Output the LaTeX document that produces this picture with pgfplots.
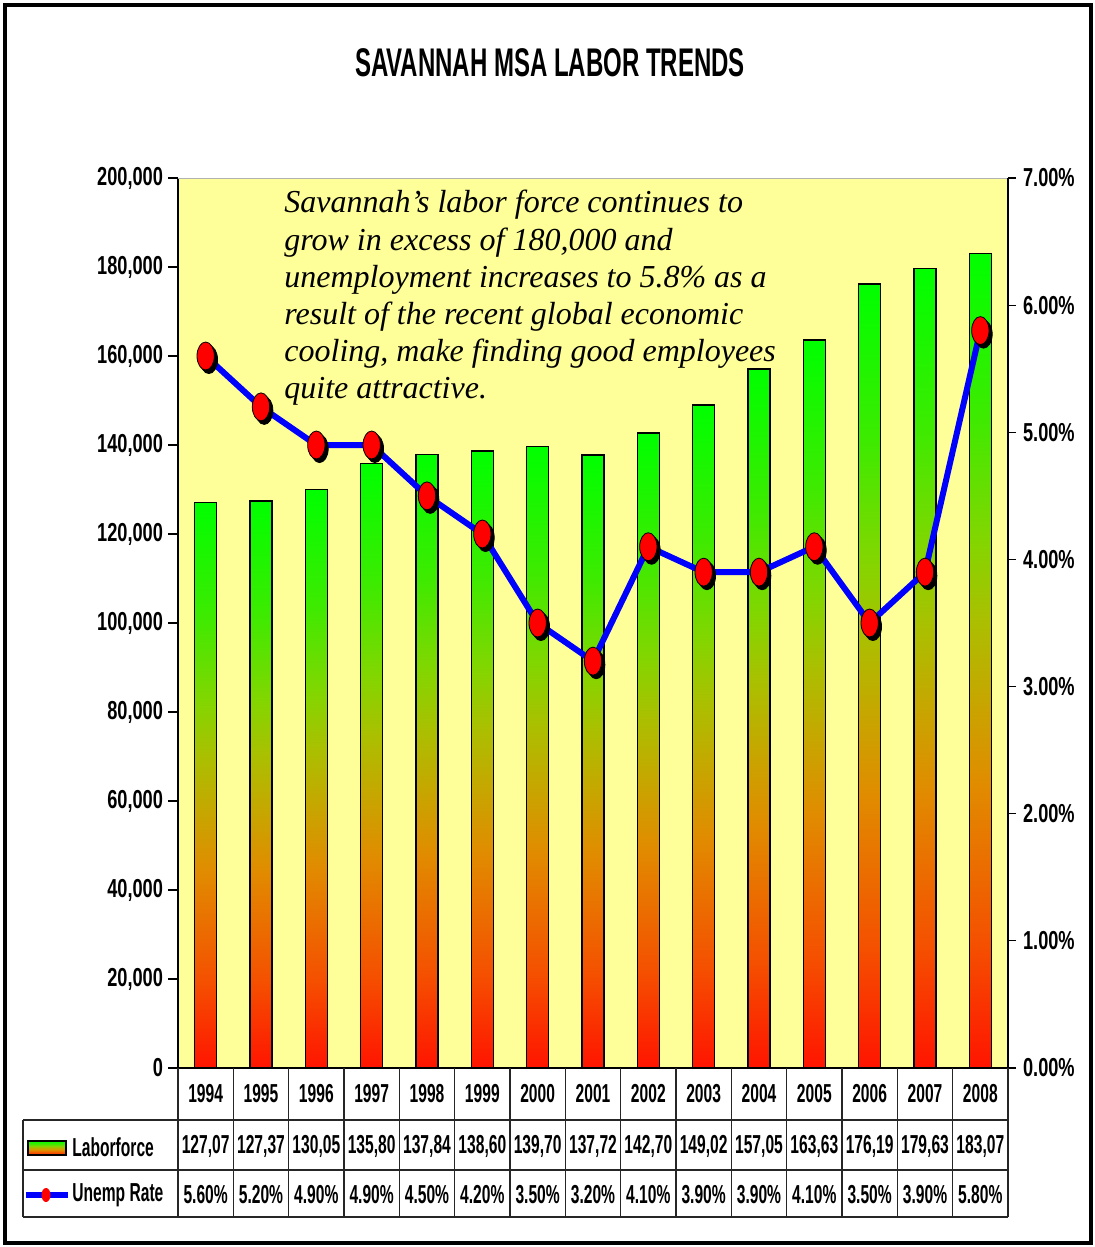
\documentclass[border=0pt]{standalone}
\usepackage{pgfplots}
\pgfplotsset{compat=1.18}
\usepackage{fontspec}
\setmainfont{Liberation Sans}
\newfontfamily\tickfont{Liberation Sans}[FakeStretch=0.70]
\newfontfamily\tabfont{Liberation Sans}[FakeStretch=0.60]
\newfontfamily\titlefont{Liberation Sans}[FakeStretch=0.60]
\newfontfamily\notefont{Liberation Serif}
\definecolor{bgy}{RGB}{255,255,153}
\definecolor{lblue}{RGB}{0,0,255}
\pgfdeclareverticalshading{barshade}{100bp}{rgb(0bp)=(1,0.08,0); rgb(25bp)=(1,0.08,0); rgb(32.5bp)=(0.96,0.31,0); rgb(37.5bp)=(0.92,0.43,0); rgb(42.5bp)=(0.88,0.55,0); rgb(47.5bp)=(0.78,0.65,0); rgb(52.5bp)=(0.67,0.75,0); rgb(57.5bp)=(0.51,0.84,0); rgb(65bp)=(0.24,0.92,0); rgb(75bp)=(0,1,0); rgb(100bp)=(0,1,0)}
\pgfplotsset{mybar/.style={ybar, bar width=11pt, bar shift=0pt, draw=black, line width=0.75pt, shading=barshade}}
\begin{document}
\begin{tikzpicture}
\begin{scope}[x=0.5pt,y=0.5pt]
\path (0,0) rectangle (1094,-1247);
\draw[line width=2pt] (5,-5) rectangle (1091,-1243);
\node[anchor=base, inner sep=0, font=\titlefont\bfseries\fontsize{20}{20}\selectfont] at (550,-76) {SAVANNAH MSA LABOR TRENDS};
\end{scope}
\begin{axis}[
  at={(89pt,-534pt)}, anchor=south west,
  scale only axis, width=415pt, height=445pt,
  xmin=-0.5, xmax=14.5, ymin=0, ymax=200000,
  axis background/.style={fill=bgy},
  axis x line*=bottom, axis y line*=left,
  axis line style={-, black, line width=0.6pt},
  xtick=\empty,
  ytick={0,20000,40000,60000,80000,100000,120000,140000,160000,180000,200000},
  yticklabels={0,{20,000},{40,000},{60,000},{80,000},{100,000},{120,000},{140,000},{160,000},{180,000},{200,000}},
  tick align=outside, major tick length=5pt,
  tick style={black, line width=0.6pt},
  scaled y ticks=false,
  yticklabel style={font=\tickfont\bfseries\fontsize{13}{13}\selectfont, xshift=1pt},
]
\addplot[mybar] coordinates {(0,127070)};
\addplot[mybar] coordinates {(1,127370)};
\addplot[mybar] coordinates {(2,130050)};
\addplot[mybar] coordinates {(3,135800)};
\addplot[mybar] coordinates {(4,137840)};
\addplot[mybar] coordinates {(5,138600)};
\addplot[mybar] coordinates {(6,139700)};
\addplot[mybar] coordinates {(7,137720)};
\addplot[mybar] coordinates {(8,142700)};
\addplot[mybar] coordinates {(9,149020)};
\addplot[mybar] coordinates {(10,157050)};
\addplot[mybar] coordinates {(11,163630)};
\addplot[mybar] coordinates {(12,176190)};
\addplot[mybar] coordinates {(13,179630)};
\addplot[mybar] coordinates {(14,183070)};
\draw[gray!60, line width=0.6pt] (rel axis cs:0,1) -- (rel axis cs:1,1);
\end{axis}
\begin{axis}[
  at={(89pt,-534pt)}, anchor=south west,
  scale only axis, width=415pt, height=445pt,
  xmin=-0.5, xmax=14.5, ymin=0, ymax=7,
  axis y line*=right, axis x line=none,
  axis line style={-, black, line width=0.6pt},
  xtick=\empty,
  ytick={0,1,2,3,4,5,6,7},
  yticklabels={0.00\%,1.00\%,2.00\%,3.00\%,4.00\%,5.00\%,6.00\%,7.00\%},
  tick align=outside, major tick length=4pt,
  tick style={black, line width=0.6pt},
  yticklabel style={font=\tickfont\bfseries\fontsize{13}{13}\selectfont},
  clip=false,
]
\addplot[lblue, line width=3pt, mark=none]
  coordinates {(0,5.6) (1,5.2) (2,4.9) (3,4.9) (4,4.5) (5,4.2) (6,3.5) (7,3.2) (8,4.1) (9,3.9) (10,3.9) (11,4.1) (12,3.5) (13,3.9) (14,5.8)};
\addplot[only marks, mark=*, mark size=7pt, mark options={xshift=1.6pt, yshift=-1.8pt, xscale=0.62, fill=black, draw=none}]
  coordinates {(0,5.6) (1,5.2) (2,4.9) (3,4.9) (4,4.5) (5,4.2) (6,3.5) (7,3.2) (8,4.1) (9,3.9) (10,3.9) (11,4.1) (12,3.5) (13,3.9) (14,5.8)};
\addplot[only marks, mark=*, mark size=7pt, mark options={xscale=0.62, fill=red, draw=none}]
  coordinates {(0,5.6) (1,5.2) (2,4.9) (3,4.9) (4,4.5) (5,4.2) (6,3.5) (7,3.2) (8,4.1) (9,3.9) (10,3.9) (11,4.1) (12,3.5) (13,3.9) (14,5.8)};
\end{axis}
\begin{scope}[x=0.5pt,y=0.5pt]
% annotation
\begin{scope}[every node/.style={anchor=base west, inner sep=0, font=\notefont\itshape\fontsize{16}{18.5}\selectfont}]
\node at (284,-213) {Savannah’s labor force continues to};
\node at (284,-250) {grow in excess of 180,000 and};
\node at (284,-287) {unemployment increases to 5.8\% as a};
\node at (284,-324) {result of the recent global economic};
\node at (284,-361) {cooling, make finding good employees};
\node at (284,-398) {quite attractive.};
\end{scope}
% data table
\begin{scope}[line width=0.6pt, draw=black!85]
\draw (23,-1120) -- (1008,-1120);
\draw (23,-1170) -- (1008,-1170);
\draw (23,-1217) -- (1008,-1217);
\draw (23,-1120) -- (23,-1217);
\foreach \k in {0,...,15} {\draw ({178+55.333*\k},-1068) -- ({178+55.333*\k},-1217);}
\end{scope}
\foreach \i/\yr/\lf/\ur in {0/1994/{127,07}/5.60, 1/1995/{127,37}/5.20, 2/1996/{130,05}/4.90, 3/1997/{135,80}/4.90, 4/1998/{137,84}/4.50, 5/1999/{138,60}/4.20, 6/2000/{139,70}/3.50, 7/2001/{137,72}/3.20, 8/2002/{142,70}/4.10, 9/2003/{149,02}/3.90, 10/2004/{157,05}/3.90, 11/2005/{163,63}/4.10, 12/2006/{176,19}/3.50, 13/2007/{179,63}/3.90, 14/2008/{183,07}/5.80} {
  \node[inner sep=0, font=\tabfont\bfseries\fontsize{13}{13}\selectfont] at ({205.667+55.333*\i},-1094) {\yr};
  \node[inner sep=0, font=\tabfont\bfseries\fontsize{13}{13}\selectfont] at ({205.667+55.333*\i},-1146) {\lf};
  \node[inner sep=0, font=\tabfont\bfseries\fontsize{13}{13}\selectfont] at ({205.667+55.333*\i},-1195) {\ur\%};
}
% legend keys
\shade[shading=barshade] (28,-1141) rectangle (66,-1155);
\draw[line width=0.9pt] (28,-1141) rectangle (66,-1155);
\draw[lblue, line width=3pt] (26,-1195) -- (68,-1195);
\fill[red] (46,-1195) ellipse (4.5 and 7);
\node[anchor=west, inner sep=0, font=\tabfont\bfseries\fontsize{13}{13}\selectfont] at (72,-1147) {Laborforce};
\node[anchor=west, inner sep=0, font=\tabfont\bfseries\fontsize{13}{13}\selectfont] at (72,-1195) {Unemp Rate};
\end{scope}
\end{tikzpicture}
\end{document}
